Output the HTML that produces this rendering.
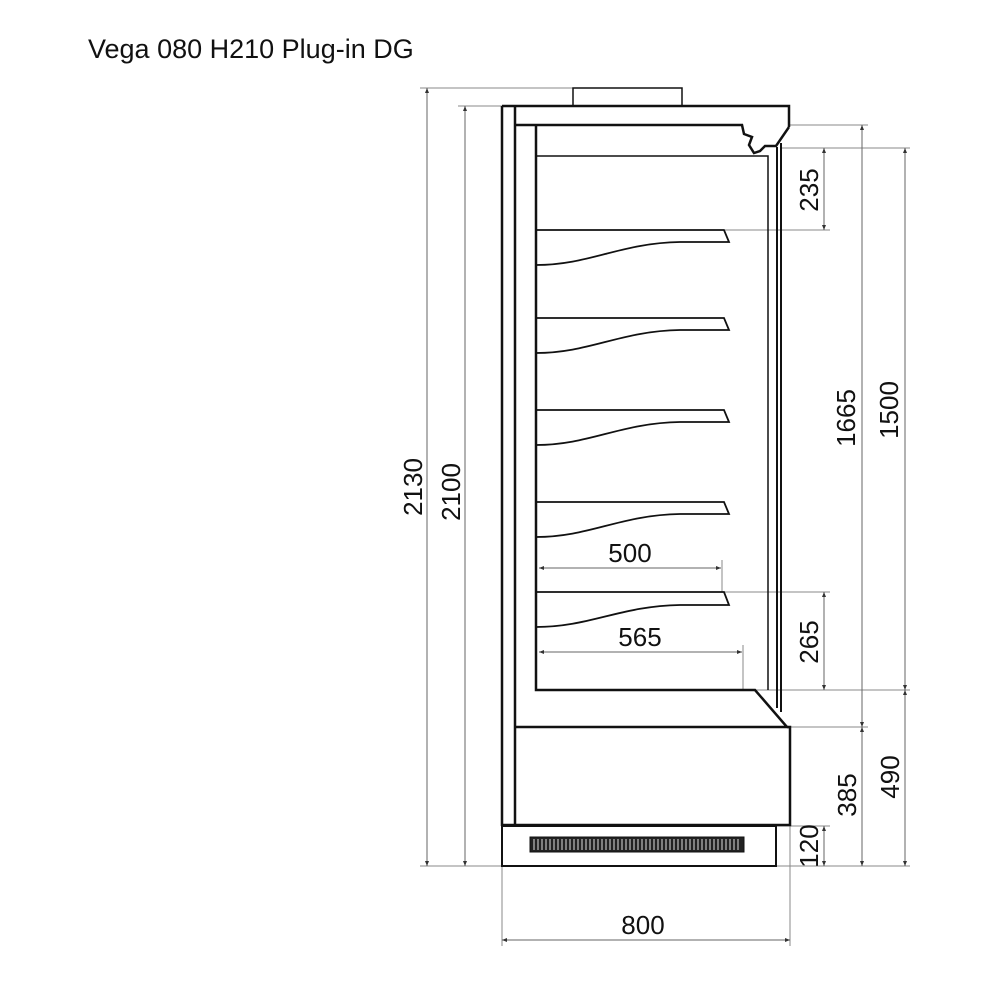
<!DOCTYPE html>
<html><head><meta charset="utf-8"><style>
html,body{margin:0;padding:0;background:#fff;}
svg{display:block}
text{font-family:"Liberation Sans",Arial,sans-serif;fill:#111}
</style></head><body>
<svg width="1000" height="1000" viewBox="0 0 1000 1000" xmlns="http://www.w3.org/2000/svg">
<defs>
<marker id="a" viewBox="0 0 10 10" refX="10" refY="5" markerWidth="5" markerHeight="5" orient="auto-start-reverse"><path d="M0,1 L10,5 L0,9 z" fill="#333"/></marker>
</defs>
<text x="88" y="58" font-size="27">Vega 080 H210 Plug-in DG</text>

<g stroke="#888" stroke-width="1" fill="none">
<line x1="420" y1="88" x2="573" y2="88"/>
<line x1="458" y1="106" x2="502" y2="106"/>
<line x1="420" y1="866" x2="502" y2="866"/>
<line x1="790" y1="125" x2="868" y2="125"/>
<line x1="780" y1="148" x2="910" y2="148"/>
<line x1="725" y1="230" x2="830" y2="230"/>
<line x1="722" y1="592" x2="830" y2="592"/>
<line x1="755" y1="690" x2="910" y2="690"/>
<line x1="790" y1="727" x2="868" y2="727"/>
<line x1="776" y1="826" x2="830" y2="826"/>
<line x1="776" y1="866" x2="910" y2="866"/>
<line x1="502" y1="866" x2="502" y2="946"/>
<line x1="790" y1="825" x2="790" y2="946"/>
<line x1="722" y1="560" x2="722" y2="592"/>
<line x1="743" y1="645" x2="743" y2="690"/>
</g>
<g stroke="#666" stroke-width="1" fill="none" marker-start="url(#a)" marker-end="url(#a)">
<line x1="427" y1="88" x2="427" y2="866"/>
<line x1="465" y1="106" x2="465" y2="866"/>
<line x1="824" y1="148" x2="824" y2="230"/>
<line x1="862" y1="125" x2="862" y2="727"/>
<line x1="905" y1="148" x2="905" y2="690"/>
<line x1="824" y1="592" x2="824" y2="690"/>
<line x1="862" y1="727" x2="862" y2="866"/>
<line x1="905" y1="690" x2="905" y2="866"/>
<line x1="824" y1="826" x2="824" y2="866"/>
<line x1="502" y1="940" x2="790" y2="940"/>
<line x1="539" y1="568" x2="721" y2="568"/>
<line x1="539" y1="652" x2="742" y2="652"/>
</g>

<g stroke="#111" stroke-width="2.5" fill="none">
<rect x="573" y="88" width="109" height="18" stroke-width="1.5"/>
<path d="M502,106 L502,826 M502,106 L789,106 L789,127"/>
<path d="M515,106 L515,826"/>
<path d="M515,125 L742,125 L744,134 L752,137 L749,145 L754,153 L760,151 L765,146 L776,146 L789,127"/>
<path d="M536,125 L536,690 L755,690 L787,727 L515,727"/>
<path d="M787,727 L790,727 L790,825 L502,825"/>
<path d="M536,156 L768,156 L768,690" stroke-width="1.5"/>
<path d="M777,147 L777,708 M781,143 L781,712" stroke-width="2"/>
<rect x="502" y="826" width="274" height="40" stroke-width="2"/>
<rect x="530" y="837" width="214" height="15" fill="#222" stroke-width="1"/>
</g>
<g stroke="#ddd" stroke-width="1">
<path d="M534,839 V850 M538,839 V850 M542,839 V850 M546,839 V850 M550,839 V850 M554,839 V850 M558,839 V850 M562,839 V850 M566,839 V850 M570,839 V850 M574,839 V850 M578,839 V850 M582,839 V850 M586,839 V850 M590,839 V850 M594,839 V850 M598,839 V850 M602,839 V850 M606,839 V850 M610,839 V850 M614,839 V850 M618,839 V850 M622,839 V850 M626,839 V850 M630,839 V850 M634,839 V850 M638,839 V850 M642,839 V850 M646,839 V850 M650,839 V850 M654,839 V850 M658,839 V850 M662,839 V850 M666,839 V850 M670,839 V850 M674,839 V850 M678,839 V850 M682,839 V850 M686,839 V850 M690,839 V850 M694,839 V850 M698,839 V850 M702,839 V850 M706,839 V850 M710,839 V850 M714,839 V850 M718,839 V850 M722,839 V850 M726,839 V850 M730,839 V850 M734,839 V850 M738,839 V850"/>
</g>

<g stroke="#111" stroke-width="1.8" fill="none">
<path d="M536,230 L724,230 L729,242 L680,242 C620,243 590,265 536,265"/>
<path d="M536,318 L724,318 L729,330 L680,330 C620,331 590,353 536,353"/>
<path d="M536,410 L724,410 L729,422 L680,422 C620,423 590,445 536,445"/>
<path d="M536,502 L724,502 L729,514 L680,514 C620,515 590,537 536,537"/>
<path d="M536,592 L724,592 L729,605 L680,605 C620,606 590,627 536,627"/>
</g>

<g font-size="26">
<text x="643" y="934" text-anchor="middle">800</text>
<text x="630" y="562" text-anchor="middle">500</text>
<text x="640" y="646" text-anchor="middle">565</text>
<text transform="translate(422,487) rotate(-90)" text-anchor="middle">2130</text>
<text transform="translate(460,492) rotate(-90)" text-anchor="middle">2100</text>
<text transform="translate(818,190) rotate(-90)" text-anchor="middle">235</text>
<text transform="translate(855,418) rotate(-90)" text-anchor="middle">1665</text>
<text transform="translate(898,410) rotate(-90)" text-anchor="middle">1500</text>
<text transform="translate(818,642) rotate(-90)" text-anchor="middle">265</text>
<text transform="translate(856,795) rotate(-90)" text-anchor="middle">385</text>
<text transform="translate(899,777) rotate(-90)" text-anchor="middle">490</text>
<text transform="translate(818,846) rotate(-90)" text-anchor="middle">120</text>
</g>
</svg>
</body></html>
